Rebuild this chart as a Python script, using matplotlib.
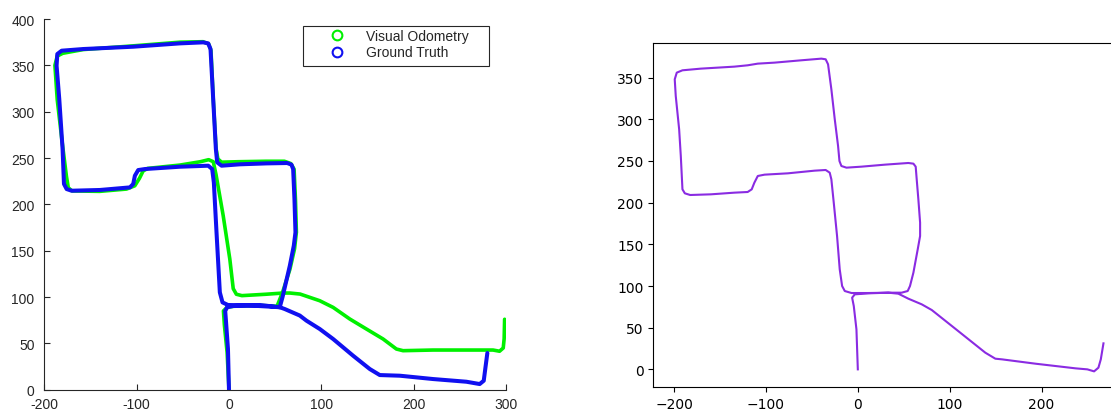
"""
Trajectory comparison figure.

Left panel: visual odometry estimate vs ground truth (Octave look).
Right panel: estimated trajectory (default matplotlib look).
"""

import matplotlib
matplotlib.use("Agg")
import matplotlib.pyplot as plt
from matplotlib.lines import Line2D
from matplotlib.patches import Rectangle
from matplotlib.ticker import FuncFormatter, MultipleLocator

# ====================================================================
# DATA
# ====================================================================

gt_x = [0, -1.1, -3.4, -4.1, -1.9, 4.6, 33.4, 55, 58, 65.9, 70.2, 72, 70.9, 69.5,
        67.7, 63, 40.6, 11.8, -8, -12.8, -14.2, -17.1, -20, -22.5, -27.9, -53.2,
        -103.7, -157.8, -181.2, -185.9, -186.7, -183.8, -180.2, -178.7, -175.8,
        -170.4, -139.8, -107.3, -103.7, -101.9, -98.3, -91, -53.2, -22.5, -18.2,
        -16.4, -13.5, -9.9, -7, -1.1, 20, 55, 60.5, 76.7, 83.9, 98.3, 112.8,
        134.4, 152.5, 163.3, 185, 221, 257.1, 271.5, 275.9, 278, 279.8]
gt_y = [0, 43.9, 76, 85, 89, 90.3, 91.4, 89, 100, 133.8, 155.4, 169.8, 205.8, 238,
        242.8, 244.6, 244.2, 243.2, 241.7, 245.3, 259.7, 313.7, 367.6, 373.7,
        374.8, 373.7, 370.1, 367.6, 365.8, 362.2, 349.6, 313.7, 259.7, 222,
        216.5, 214.7, 215.5, 218.3, 222, 230.9, 237, 238.1, 240.6, 241.7, 238.1,
        223.7, 169.8, 105, 94.2, 91.4, 91, 89, 87, 80, 74.5, 65.5, 54.7, 36.7,
        22.3, 15.8, 15.1, 11.5, 8.6, 6.1, 9.7, 25.9, 39.6]

vo_x = [0, -2, -5, -6, -2, 5, 33, 52, 58, 66, 71, 73, 72, 70.5, 67, 60, 40, 10,
        -8, -12, -14, -17, -19.5, -22, -28, -53, -104, -158, -180, -186, -188.5,
        -186, -181, -176, -174, -170, -140, -111, -102, -97, -93, -88, -53, -31,
        -22, -17, -14, -6.3, 0.9, 4.6, 8, 14, 40, 58.6, 66, 77, 98.3, 112.8, 130.8,
        148.8, 166.9, 181.3, 188.5, 221, 286, 293, 297, 298, 298.5]
vo_y = [0, 40, 70, 85, 89, 90, 91, 90, 105, 130, 152, 170, 205, 238, 244, 246.5,
        246.5, 246, 245.5, 249, 260, 313, 366, 373, 375.5, 375, 371, 367, 363,
        360, 350, 313, 270, 230, 218, 214.5, 214, 216.5, 220, 228, 236, 238.8,
        242.4, 246, 248.2, 246, 232, 188, 141, 109, 103, 101.5, 103, 104.3, 104.3,
        103.2, 96, 88.8, 76.3, 65.5, 54.7, 43.9, 42.1, 42.8, 42.8, 41.5, 45, 55, 76]

est_x = [0, -1.5, -4.4, -6.2, -3.3, 11.3, 33.2, 47.7, 54.3, 56.8, 60.5, 65.2,
         67.8, 67.8, 65.9, 64.1, 63, 60.5, 55, 29.5, 4, -12.4, -17.9, -20, -21.5,
         -25.1, -28.8, -32.4, -35, -39.7, -61.6, -90.7, -108.9, -119.9, -134.4,
         -170.9, -190.9, -197.1, -199.3, -198.2, -194.5, -192.7, -190.9, -188.3,
         -182.5, -159.9, -134.4, -119.9, -115.5, -112.6, -108.9, -101.6, -76.1,
         -47, -35, -30.6, -28.8, -26.2, -22.6, -19.7, -17.1, -14.2, -6.9, 11.3,
         33.2, 44.1, 55, 69.6, 80.5, 102.4, 120.6, 138.8, 149.7, 157, 193.4,
         237.2, 249.9, 257.2, 261.9, 264.5, 267.4]
est_y = [0, 48, 76, 86, 90, 91.2, 92, 92, 94, 100, 116, 144, 160, 176, 204, 228,
         243.2, 246.8, 247.6, 245.6, 243.2, 242, 244, 250, 268, 300, 336, 366,
         372, 372.8, 370.8, 368, 366.8, 364.8, 363.2, 360.8, 358.8, 356, 348,
         328, 288, 256, 216, 211.2, 209.2, 210, 212, 212.8, 216, 224, 232, 233.6,
         235.2, 238.4, 239.2, 236, 228, 200, 160, 120, 100, 94, 91.6, 91.6, 92,
         90.8, 84.8, 78, 71.2, 52, 36, 20, 12.8, 12, 6.8, 1.2, 0, -2.4, 2, 12,
         31.2]

series_labels = ["Visual Odometry", "Ground Truth"]

W, H = 1111, 414
OCTAVE_GRAY = "#262626"
VO_GREEN = "#00f000"
GT_BLUE = "#1010f0"


def _fx(px):
    return px / W


def _fy(py):
    return 1 - py / H


# ====================================================================
# PANELS
# ====================================================================

def _plot_comparison(fig):
    """Octave-style left panel: VO vs ground truth."""
    ax = fig.add_axes([_fx(44.3), _fy(390.7), _fx(506 - 44.3), (390.7 - 20) / H])
    ax.plot(vo_x, vo_y, color=VO_GREEN, lw=2.6, solid_capstyle="round",
            solid_joinstyle="round")
    ax.plot(gt_x, gt_y, color=GT_BLUE, lw=2.9, solid_capstyle="round",
            solid_joinstyle="round")

    ax.set_xlim(-200, 300)
    ax.set_ylim(0, 400)
    ax.xaxis.set_major_locator(MultipleLocator(100))
    ax.yaxis.set_major_locator(MultipleLocator(50))
    fmt = FuncFormatter(lambda v, p: f"{v:.0f}")
    ax.xaxis.set_major_formatter(fmt)
    ax.yaxis.set_major_formatter(fmt)

    for side in ("top", "right"):
        ax.spines[side].set_visible(False)
    for side in ("left", "bottom"):
        ax.spines[side].set_color(OCTAVE_GRAY)
        ax.spines[side].set_linewidth(0.8)
    ax.tick_params(direction="in", length=4, width=0.8, color=OCTAVE_GRAY,
                   labelcolor=OCTAVE_GRAY, labelsize=10)
    ax.tick_params(axis="x", pad=5)
    ax.tick_params(axis="y", pad=7)
    for lab in ax.get_xticklabels() + ax.get_yticklabels():
        lab.set_family("Liberation Sans")

    # legend with Octave-like square frame drawn separately
    fig.patches.append(Rectangle((_fx(303), _fy(66.7)), (489.3 - 303) / W,
                                 (66.7 - 27.3) / H, transform=fig.transFigure,
                                 fill=False, edgecolor=OCTAVE_GRAY, lw=0.8))
    handles = [
        Line2D([], [], ls="none", marker="o", ms=7, mfc="none", mew=1.5, mec=VO_GREEN),
        Line2D([], [], ls="none", marker="o", ms=7, mfc="none", mew=1.5, mec=GT_BLUE),
    ]
    fig.legend(handles, series_labels, loc="center left",
               bbox_to_anchor=(_fx(322.8), _fy(45)), frameon=False,
               borderpad=0, borderaxespad=0, handlelength=2.0,
               handletextpad=1.1, labelspacing=0.2,
               prop={"family": "Liberation Sans", "size": 10},
               labelcolor=OCTAVE_GRAY)


def _plot_estimate(fig):
    """Default matplotlib right panel: estimated path."""
    ax = fig.add_axes([_fx(653.3), _fy(388), (1124.9 - 653.3) / W, (388 - 44) / H])
    ax.plot(est_x, est_y, color="#8a2be2", lw=1.5)
    ax.tick_params(labelsize=10)


fig = plt.figure(figsize=(W / 100, H / 100), dpi=100)
_plot_comparison(fig)
_plot_estimate(fig)
fig.savefig("out.png", dpi=100)
